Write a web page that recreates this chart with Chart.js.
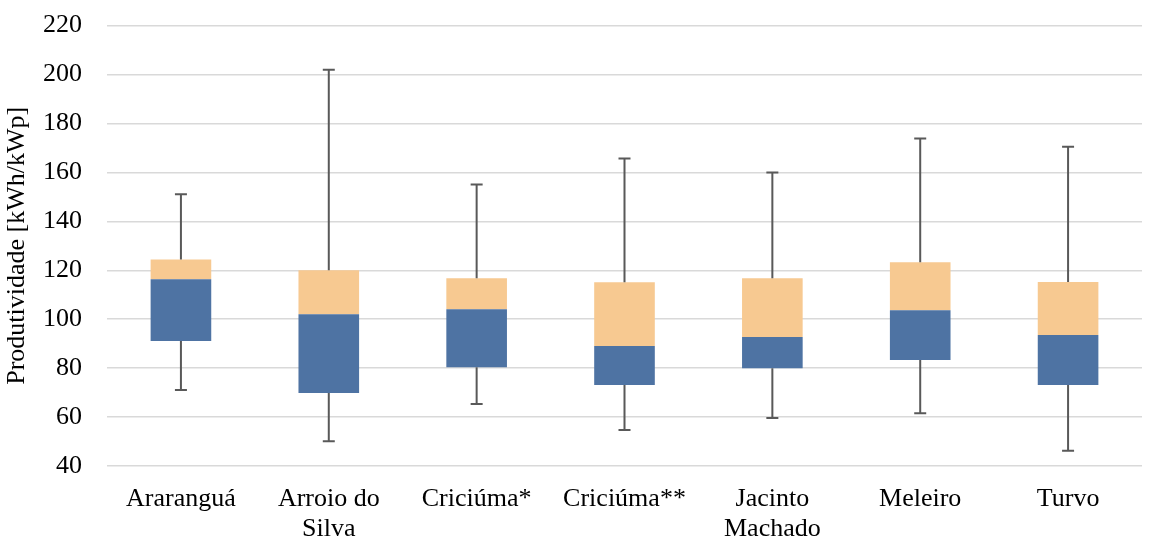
<!DOCTYPE html>
<html>
<head>
<meta charset="utf-8">
<script src="https://cdn.jsdelivr.net/npm/chart.js@4"></script>
<style>
  body { margin: 0; background: #fff; overflow: hidden; }
  #frame { width: 1156px; height: 538px; overflow: hidden; position: relative; }
  #wrap { width: 1156px; height: 553px; position: absolute; top: -15px; left: 0; }
</style>
</head>
<body>
<div id="frame"><div id="wrap"><canvas id="chart"></canvas></div></div>
<script>
// box plot data
const cities = ['Araranguá', ['Arroio do', 'Silva'], 'Criciúma*', 'Criciúma**', ['Jacinto', 'Machado'], 'Meleiro', 'Turvo'];
const minVals = [71.1, 50.1, 65.3, 54.7, 59.6, 61.6, 46.2];
const q1Vals = [91.1, 69.8, 80.4, 73.1, 80.0, 83.3, 73.1];
const medianVals = [116.3, 102.0, 104.1, 89.0, 92.7, 103.7, 93.5];
const q3Vals = [124.4, 120.0, 116.7, 115.1, 116.7, 123.3, 115.2];
const maxVals = [151.1, 202.0, 155.1, 165.7, 160.0, 173.9, 170.5];
const yTicks = [40, 60, 80, 100, 120, 140, 160, 180, 200, 220];

const lowerBox = q1Vals.map((q, i) => [q, medianVals[i]]);
const upperBox = medianVals.map((m, i) => [m, q3Vals[i]]);

// whiskers with caps, positioned through the chart scales
const whiskers = {
    id: 'whiskers',
    afterDatasetsDraw(chart) {
        const ctx = chart.ctx;
        const x = chart.scales.x;
        const y = chart.scales.y;
        ctx.save();
        ctx.strokeStyle = '#595959';
        ctx.lineWidth = 2;
        cities.forEach((c, i) => {
            const px = x.getPixelForValue(i);
            const pairs = [[q3Vals[i], maxVals[i]], [q1Vals[i], minVals[i]]];
            pairs.forEach(([from, to]) => {
                const y0 = y.getPixelForValue(from);
                const y1 = y.getPixelForValue(to);
                ctx.beginPath();
                ctx.moveTo(px, y0);
                ctx.lineTo(px, y1);
                ctx.moveTo(px - 6, y1);
                ctx.lineTo(px + 6, y1);
                ctx.stroke();
            });
        });
        ctx.restore();
    }
};

const serif = "'Liberation Serif', 'Times New Roman', serif";

new Chart(document.getElementById('chart'), {
    type: 'bar',
    data: {
        labels: cities,
        datasets: [
            {
                label: 'Q1 - Mediana',
                data: lowerBox,
                backgroundColor: '#4e73a3'
            },
            {
                label: 'Mediana - Q3',
                data: upperBox,
                backgroundColor: '#f7c991'
            }
        ]
    },
    options: {
        responsive: true,
        maintainAspectRatio: false,
        animation: false,
        grouped: false,
        categoryPercentage: 1,
        barPercentage: 0.41,
        layout: { padding: { top: 0, right: 14, left: 2, bottom: 0 } },
        plugins: {
            legend: { display: false },
            tooltip: { enabled: false }
        },
        scales: {
            x: {
                grid: { display: false },
                border: { display: false },
                afterFit: axis => { axis.height = 72; },
                ticks: {
                    color: '#000',
                    font: { family: serif, size: 26, lineHeight: 1.15 },
                    padding: 10,
                    maxRotation: 0
                }
            },
            y: {
                min: 40,
                max: 220,
                afterBuildTicks: axis => { axis.ticks = yTicks.map(v => ({ value: v })); },
                afterFit: axis => { axis.width = 105; },
                grid: { color: '#d9d9d9', lineWidth: 1.5, drawTicks: false },
                border: { display: false },
                ticks: {
                    color: '#000',
                    font: { family: serif, size: 26 },
                    padding: 25
                },
                title: {
                    display: true,
                    text: 'Produtividade [kWh/kWp]',
                    color: '#000',
                    font: { family: serif, size: 26 },
                    padding: { top: 0, bottom: 10 }
                }
            }
        }
    },
    plugins: [whiskers]
});
</script>
</body>
</html>
